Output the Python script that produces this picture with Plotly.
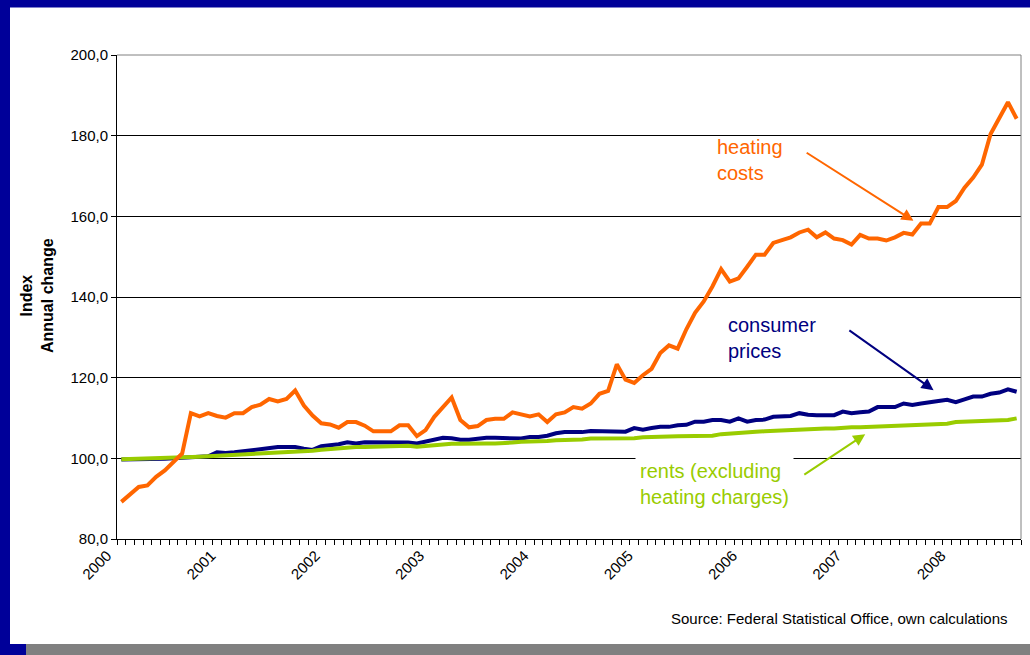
import plotly.graph_objects as go

# ---- data (monthly, Jan 2000 .. Aug 2008) ----
years = ["2000", "2001", "2002", "2003", "2004", "2005", "2006", "2007", "2008"]

heating_costs = [
    89.2, 90.9, 92.9, 93.3, 95.4, 97.0, 99.1, 101.2, 111.2, 110.4, 111.2, 110.5,
    110.1, 111.2, 111.2, 112.7, 113.3, 114.7, 114.1, 114.7, 116.8, 113.1, 110.6, 108.7,
    108.4, 107.6, 109.0, 109.0, 108.1, 106.7, 106.7, 106.7, 108.2, 108.2, 105.5, 107.0,
    110.3, 112.7, 115.1, 109.5, 107.7, 108.0, 109.5, 109.8, 109.8, 111.4, 110.9, 110.4,
    110.9, 109.0, 110.9, 111.4, 112.7, 112.3, 113.6, 116.0, 116.7, 123.3, 119.5, 118.7,
    120.6, 122.2, 126.1, 128.0, 127.2, 132.0, 136.1, 138.9, 142.6, 146.9, 143.8, 144.6,
    147.5, 150.5, 150.5, 153.4, 154.1, 154.8, 156.0, 156.7, 154.8, 156.0, 154.5, 154.1,
    153.0, 155.4, 154.5, 154.5, 154.0, 154.8, 155.9, 155.5, 158.2, 158.2, 162.3, 162.3,
    163.8, 167.1, 169.6, 172.8, 180.4, 184.4, 188.3, 184.2,
]

consumer_prices = [
    99.7, 99.7, 99.8, 99.8, 99.9, 99.9, 100.0, 100.1, 100.2, 100.3, 100.5, 101.5,
    101.3, 101.5, 101.8, 102.0, 102.2, 102.6, 102.8, 102.8, 102.8, 102.4, 102.1, 103.0,
    103.2, 103.5, 104.0, 103.7, 104.0, 104.0, 104.0, 104.0, 104.1, 103.9, 103.7, 104.2,
    104.7, 105.1, 105.0, 104.6, 104.6, 104.9, 105.1, 105.1, 105.1, 105.1, 104.9, 105.3,
    105.3, 105.6, 106.2, 106.5, 106.5, 106.5, 106.8, 106.8, 106.8, 106.8, 106.6, 107.5,
    107.1, 107.5, 107.8, 107.8, 108.2, 108.3, 109.1, 109.1, 109.5, 109.5, 109.1, 109.9,
    109.1, 109.5, 109.6, 110.3, 110.3, 110.5, 111.2, 110.8, 110.7, 110.7, 110.7, 111.6,
    111.2, 111.4, 111.6, 112.7, 112.7, 112.7, 113.6, 113.2, 113.6, 113.8, 114.2, 114.5,
    113.9, 114.6, 115.3, 115.3, 116.0, 116.3, 117.1, 116.5,
]

rents = [
    99.75, 99.8, 99.9, 100.0, 100.0, 100.1, 100.2, 100.25, 100.3, 100.4, 100.5, 100.6,
    100.7, 100.9, 101.1, 101.1, 101.2, 101.3, 101.4, 101.5, 101.6, 101.8, 101.9, 102.1,
    102.3, 102.6, 102.7, 102.8, 102.8, 102.9, 102.9, 103.0, 103.0, 103.1, 102.9, 103.1,
    103.4, 103.5, 103.6, 103.6, 103.7, 103.7, 103.7, 103.7, 103.7, 103.9, 104.1, 104.1,
    104.1, 104.3, 104.5, 104.5, 104.5, 104.7, 104.9, 104.9, 104.9, 104.9, 104.9, 105.0,
    105.2, 105.2, 105.2, 105.4, 105.5, 105.5, 105.6, 105.6, 105.6, 106.0, 106.2, 106.4,
    106.6, 106.6, 106.7, 106.8, 107.0, 107.1, 107.3, 107.3, 107.3, 107.4, 107.4, 107.6,
    107.7, 107.7, 107.8, 107.9, 108.0, 108.0, 108.0, 108.2, 108.3, 108.3, 108.4, 108.6,
    109.0, 109.1, 109.1, 109.2, 109.3, 109.3, 109.5, 109.9,
]

months = list(range(len(heating_costs)))

ORANGE = "#FF6600"
NAVY = "#000080"
GREEN = "#99CC00"
FONT = "Liberation Sans, Arial, sans-serif"

fig = go.Figure()
fig.add_trace(go.Scatter(x=months, y=consumer_prices, mode="lines",
                         line=dict(color=NAVY, width=4), name="consumer prices"))
fig.add_trace(go.Scatter(x=months, y=rents, mode="lines",
                         line=dict(color=GREEN, width=4), name="rents"))
fig.add_trace(go.Scatter(x=months, y=heating_costs, mode="lines",
                         line=dict(color=ORANGE, width=4), name="heating costs"))

n = len(months)
tickvals = [k - 0.5 for k in range(n + 1)]
ticktext = [years[k // 12] if (k % 12 == 0 and k // 12 < len(years)) else "" for k in range(n + 1)]

fig.update_layout(
    width=1030, height=655,
    margin=dict(l=117, r=9, t=55, b=116),
    paper_bgcolor="white", plot_bgcolor="white",
    showlegend=False,
    separators=",.",
    font=dict(family=FONT, color="black", size=15),
    xaxis=dict(range=[-0.5, n - 0.5], tickmode="array", tickvals=tickvals, ticktext=ticktext,
               tickangle=-45, ticks="outside", ticklen=5, tickcolor="black", tickwidth=1,
               showline=True, linecolor="black", linewidth=1, showgrid=False, zeroline=False,
               ticklabelshift=-10, ticklabelstandoff=-4,
               tickfont=dict(size=15, family=FONT, color="black")),
    yaxis=dict(range=[80, 200], dtick=20, tickformat=".1f", ticks="outside", ticklen=5,
               tickcolor="black", showline=True, linecolor="black", linewidth=1,
               showgrid=True, gridcolor="black", gridwidth=1, zeroline=False,
               tickfont=dict(size=15, family=FONT, color="black")),
)

# frame decoration
shapes = [
    dict(type="rect", xref="paper", yref="paper", x0=-0.14, x1=1.02, y0=(539 - 7.5) / 484, y1=1.13,
         fillcolor="#000099", line=dict(width=0), layer="above"),
    dict(type="rect", xref="paper", yref="paper", x0=-0.14, x1=(10 - 117) / 904, y0=-0.26, y1=1.13,
         fillcolor="#000099", line=dict(width=0), layer="above"),
    dict(type="rect", xref="paper", yref="paper", x0=-0.14, x1=(26 - 117) / 904, y0=-0.26, y1=(539 - 644) / 484,
         fillcolor="#000099", line=dict(width=0), layer="above"),
    dict(type="rect", xref="paper", yref="paper", x0=(26 - 117) / 904, x1=1.02, y0=-0.26, y1=(539 - 644) / 484,
         fillcolor="#808080", line=dict(width=0), layer="above"),
    dict(type="line", xref="paper", yref="paper", x0=1, x1=1, y0=0, y1=1,
         line=dict(color="#808080", width=1)),
    dict(type="line", xref="paper", yref="paper", x0=0, x1=1, y0=1, y1=1,
         line=dict(color="#808080", width=1)),
]
fig.update_layout(shapes=shapes)

annotations = [
    # y-axis title
    dict(x=(37 - 117) / 904, y=(539 - 296) / 484, xref="paper", yref="paper",
         text="<b>Index</b><br><b>Annual change</b>", textangle=-90, showarrow=False,
         xanchor="center", yanchor="middle", align="center",
         font=dict(size=16, family=FONT, color="black")),
    # labels
    dict(x=68.3, y=173.9, xref="x", yref="y", text="heating<br>costs", showarrow=False,
         xanchor="left", yanchor="middle", align="left",
         font=dict(size=20, family=FONT, color=ORANGE)),
    dict(x=69.6, y=129.9, xref="x", yref="y", text="consumer<br>prices", showarrow=False,
         xanchor="left", yanchor="middle", align="left",
         font=dict(size=20, family=FONT, color=NAVY)),
    dict(x=59.1, y=93.65, xref="x", yref="y", text="rents (excluding<br>heating charges)", showarrow=False,
         xanchor="left", yanchor="middle", align="left", bgcolor="white", borderpad=4,
         font=dict(size=20, family=FONT, color=GREEN)),
    # arrows
    dict(x=91.13, y=158.9, ax=78.67, ay=176.0, xref="x", yref="y", axref="x", ayref="y",
         text="", showarrow=True, arrowhead=2, arrowsize=1.2, arrowwidth=2, arrowcolor=ORANGE),
    dict(x=93.44, y=116.9, ax=83.58, ay=132.0, xref="x", yref="y", axref="x", ayref="y",
         text="", showarrow=True, arrowhead=2, arrowsize=1.2, arrowwidth=2, arrowcolor=NAVY),
    dict(x=85.58, y=106.0, ax=78.4, ay=95.7, xref="x", yref="y", axref="x", ayref="y",
         text="", showarrow=True, arrowhead=2, arrowsize=1.2, arrowwidth=2, arrowcolor=GREEN),
    # source
    dict(x=(1010 - 117) / 904, y=(539 - 618) / 484, xref="paper", yref="paper",
         text="Source: Federal Statistical Office, own calculations", showarrow=False,
         xanchor="right", yanchor="middle", font=dict(size=15, family=FONT, color="black")),
]
fig.update_layout(annotations=annotations)

fig.write_html("out.html", config={"displayModeBar": False},
               post_script="document.body.style.margin='0';document.body.style.overflow='hidden';")
